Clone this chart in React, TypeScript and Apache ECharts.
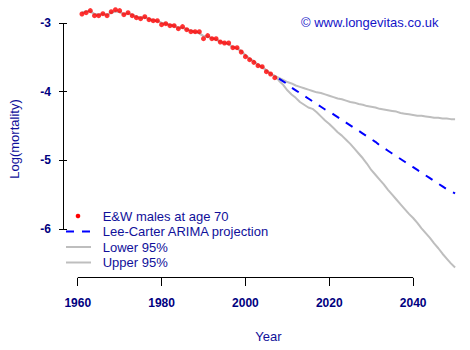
import React, { useEffect, useRef } from "react";
import * as echarts from "echarts";

// Observed log mortality, E&W males age 70, 1961-2007
const obsStartYear = 1961;
const observed = [
  -2.869, -2.850, -2.820, -2.893, -2.893, -2.864, -2.893, -2.835, -2.806, -2.820,
  -2.879, -2.850, -2.893, -2.922, -2.937, -2.908, -2.951, -2.966, -2.966, -3.024,
  -3.010, -3.039, -3.039, -3.083, -3.053, -3.097, -3.126, -3.126, -3.126, -3.228,
  -3.184, -3.228, -3.228, -3.277, -3.291, -3.291, -3.359, -3.359, -3.422, -3.490,
  -3.534, -3.573, -3.621, -3.636, -3.709, -3.743, -3.796,
];
// Fitted values (under the observed points), 1961-2007
const fitted = [
  -2.85, -2.83, -2.83, -2.87, -2.88, -2.87, -2.88, -2.85, -2.83, -2.84,
  -2.87, -2.86, -2.88, -2.91, -2.92, -2.92, -2.94, -2.96, -2.97, -3.00,
  -3.01, -3.03, -3.04, -3.07, -3.07, -3.09, -3.11, -3.13, -3.15, -3.19,
  -3.20, -3.22, -3.24, -3.27, -3.29, -3.31, -3.35, -3.37, -3.41, -3.47,
  -3.52, -3.56, -3.61, -3.64, -3.69, -3.74, -3.77,
];
// Projection 2008-2050
const projStartYear = 2008;
const central = [
  -3.81, -3.85, -3.89, -3.94, -3.98, -4.02, -4.06, -4.10, -4.14, -4.18,
  -4.22, -4.26, -4.29, -4.33, -4.37, -4.41, -4.45, -4.49, -4.53, -4.57,
  -4.61, -4.65, -4.69, -4.73, -4.78, -4.82, -4.86, -4.90, -4.94, -4.98,
  -5.02, -5.06, -5.10, -5.14, -5.18, -5.22, -5.26, -5.30, -5.34, -5.38,
  -5.42, -5.45, -5.48,
];
const lower = [
  -3.84, -3.90, -3.98, -4.04, -4.09, -4.15, -4.19, -4.23, -4.25, -4.30,
  -4.36, -4.42, -4.47, -4.53, -4.59, -4.64, -4.70, -4.76, -4.83, -4.90,
  -4.97, -5.05, -5.14, -5.21, -5.28, -5.35, -5.43, -5.50, -5.57, -5.64,
  -5.71, -5.78, -5.84, -5.91, -5.99, -6.06, -6.13, -6.21, -6.28, -6.36,
  -6.43, -6.50, -6.56,
];
const upper = [
  -3.80, -3.83, -3.86, -3.88, -3.91, -3.93, -3.95, -3.97, -3.99, -4.01,
  -4.02, -4.04, -4.06, -4.08, -4.10, -4.11, -4.13, -4.15, -4.16, -4.18,
  -4.19, -4.21, -4.22, -4.23, -4.25, -4.26, -4.27, -4.28, -4.29, -4.31,
  -4.32, -4.33, -4.34, -4.35, -4.35, -4.36, -4.37, -4.38, -4.38, -4.39,
  -4.39, -4.40, -4.40,
];
const xTicks = [1960, 1980, 2000, 2020, 2040];
const yTicks = [-3, -4, -5, -6];
const legendNames = [
  "E&W males at age 70",
  "Lee-Carter ARIMA projection",
  "Lower 95%",
  "Upper 95%",
];
const copyright = "© www.longevitas.co.uk";

const FONT = "'Liberation Sans', Arial, sans-serif";
const NAVY = "#000080";
const TEXT = "#10109a";
const GREY = "#BEBEBE";

export default function App() {
  const ref = useRef<HTMLDivElement>(null);
  useEffect(() => {
    if (!ref.current) return;
    const chart = echarts.init(ref.current, null, { renderer: "svg" });
    const obsPts = observed.map((v, i) => [obsStartYear + i, v]);
    const fitPts = fitted.map((v, i) => [obsStartYear + i, v]);
    const cenPts = central.map((v, i) => [projStartYear + i, v]);
    const lowPts = fitPts.concat(lower.map((v, i) => [projStartYear + i, v]));
    const upPts = fitPts.concat(upper.map((v, i) => [projStartYear + i, v]));

    chart.setOption({
      animation: false,
      grid: { left: 63, right: 0, top: 0, bottom: 72, containLabel: false },
      xAxis: {
        type: "value",
        min: 1957.44,
        max: 2053.56,
        splitLine: { show: false },
        axisLine: { show: false },
        axisTick: { show: true, length: 8, customValues: xTicks, lineStyle: { color: "#000", width: 1 } },
        axisLabel: {
          customValues: xTicks,
          formatter: (v: number) => String(v),
          margin: 19,
          color: NAVY,
          fontWeight: "bold",
          fontSize: 12,
          fontFamily: FONT,
        },
        name: "Year",
        nameLocation: "middle",
        nameGap: 52,
        nameTextStyle: { color: TEXT, fontSize: 13, fontFamily: FONT },
      },
      yAxis: {
        type: "value",
        min: -6.7135,
        max: -2.665,
        splitLine: { show: false },
        axisLine: { show: false },
        axisTick: { show: true, length: 8, customValues: yTicks, lineStyle: { color: "#000", width: 1 } },
        axisLabel: {
          customValues: yTicks,
          formatter: (v: number) => String(v),
          margin: 16,
          color: NAVY,
          fontWeight: "bold",
          fontSize: 12,
          fontFamily: FONT,
        },
        name: "Log(mortality)",
        nameLocation: "middle",
        nameRotate: 90,
        nameGap: 46,
        nameTextStyle: { color: TEXT, fontSize: 13, fontFamily: FONT },
      },
      series: [
        {
          name: legendNames[2],
          type: "line",
          data: lowPts,
          symbol: "none",
          lineStyle: { color: GREY, width: 2 },
          z: 1,
        },
        {
          name: legendNames[3],
          type: "line",
          data: upPts,
          symbol: "none",
          lineStyle: { color: GREY, width: 2 },
          z: 1,
        },
        {
          name: legendNames[0],
          type: "scatter",
          data: obsPts,
          symbol: "circle",
          symbolSize: 5,
          itemStyle: { color: "#FF0000" },
          z: 2,
        },
        {
          name: legendNames[1],
          type: "line",
          data: cenPts,
          symbol: "none",
          lineStyle: { color: "#0000FF", width: 2, type: [8, 8] },
          z: 3,
        },
      ],
    });

    const p = (x: number, y: number) => chart.convertToPixel({ gridIndex: 0 }, [x, y]) as number[];
    const yTop = p(1960, yTicks[0]);
    const yBot = p(1960, yTicks[yTicks.length - 1]);
    const xL = p(xTicks[0], -6.7135);
    const xR = p(xTicks[xTicks.length - 1], -6.7135);
    const axX = 63.5;
    const axY = Math.round(xL[1]) - 0.5;

    const rowY = [216, 231.5, 247, 262.5];
    const textX = 102.7;
    const legendText = legendNames.map((n, i) => ({
      type: "text",
      x: textX,
      y: rowY[i],
      style: { text: n, fill: TEXT, font: `13px ${FONT}`, verticalAlign: "middle", align: "left" },
    }));

    chart.setOption({
      graphic: {
        elements: [
          { type: "line", shape: { x1: axX, y1: yTop[1], x2: axX, y2: yBot[1] }, style: { stroke: "#000", lineWidth: 1 } },
          { type: "line", shape: { x1: xL[0], y1: axY, x2: xR[0], y2: axY }, style: { stroke: "#000", lineWidth: 1 } },
          { type: "circle", shape: { cx: 78, cy: rowY[0], r: 2.3 }, style: { fill: "#FF0000" } },
          { type: "line", shape: { x1: 66, y1: rowY[1], x2: 91, y2: rowY[1] }, style: { stroke: "#0000FF", lineWidth: 2, lineDash: [8, 8] } },
          { type: "line", shape: { x1: 66, y1: rowY[2], x2: 91, y2: rowY[2] }, style: { stroke: GREY, lineWidth: 2 } },
          { type: "line", shape: { x1: 66, y1: rowY[3], x2: 91, y2: rowY[3] }, style: { stroke: GREY, lineWidth: 2 } },
          ...legendText,
          {
            type: "text",
            x: 301,
            y: 22.3,
            style: { text: copyright, fill: "#1414c8", font: `13px ${FONT}`, verticalAlign: "middle", align: "left" },
          },
        ],
      },
    });

    return () => chart.dispose();
  }, []);
  return (
    <div
      ref={ref}
      style={{ position: "absolute", left: 0, top: 0, width: 470, height: 350 }}
    />
  );
}
